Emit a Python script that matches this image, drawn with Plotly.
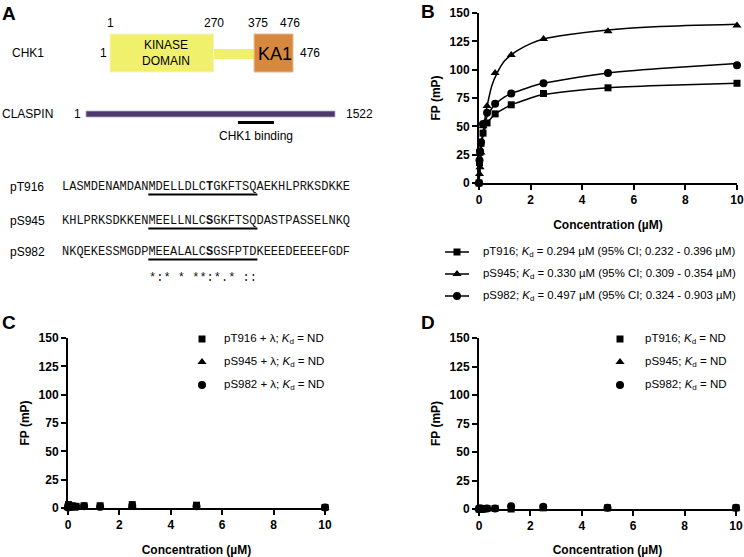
import plotly.graph_objects as go

W, H = 744, 557

# ---------------- data ----------------
conc = [0, 0.0195, 0.039, 0.078, 0.156, 0.3125, 0.625, 1.25, 2.5, 5, 10]

# Panel B (FP, mP)
b_pT916 = [0, 18, 27, 35, 44, 53, 61, 69, 79, 84, 88]
b_pS945 = [0, 8, 14, 27, 50, 68, 97, 113, 127, 134, 139]
b_pS982 = [0, 20, 28, 36, 52, 62, 70, 79, 88, 97, 104]

# fitted curves
fit_x = [0, 0.05, 0.1, 0.2, 0.3, 0.5, 0.7, 1, 1.25, 1.5, 2, 2.5, 3.5, 5, 7, 10]
fit_pT916 = [0, 22, 35, 46, 52, 58, 62, 66, 69, 71, 75, 78, 81, 84, 86, 88]
fit_pS982 = [0, 24, 37, 50, 58, 66, 71, 76, 79, 81, 85, 88, 92, 97, 101, 105.5]
fit_pS945 = [0, 15, 32, 52, 66, 86, 97, 108, 113, 117, 123, 127, 131, 135, 138, 140]

# Panel C (+ lambda phosphatase)
c_pT916 = [1, 3, 2, 1, 2, 1.5, 2, 2, 3, 2.5, 0.5]
c_pS945 = [0, 1, 0.5, 1, 1, 0.5, 1, 1, 1.5, 1, 0]
c_pS982 = [0.5, 2, 1, 1.5, 1, 1, 1.5, 1, 2, 1.5, 0.5]

# Panel D
d_pT916 = [0, 0, 0.5, 0, 0, 0.5, 0.5, 0, 1, 1, 1]
d_pS945 = [0, -0.5, 0, 0, 0, 0, 0, 0, 0.5, 0.5, 0.5]
d_pS982 = [0, 0.5, 0, 0.5, 0, 0.5, 0.5, 2.5, 2, 1, 1]

x_ticks = [0, 2, 4, 6, 8, 10]
y_ticks = [0, 25, 50, 75, 100, 125, 150]

b_names = [
    "pT916; <i>K</i><sub>d</sub> = 0.294 µM (95% CI; 0.232 - 0.396 µM)",
    "pS945; <i>K</i><sub>d</sub> = 0.330 µM (95% CI; 0.309 - 0.354 µM)",
    "pS982; <i>K</i><sub>d</sub> = 0.497 µM (95% CI; 0.324 - 0.903 µM)",
]
c_names = ["pT916 + λ; <i>K</i><sub>d</sub> = ND",
           "pS945 + λ; <i>K</i><sub>d</sub> = ND",
           "pS982 + λ; <i>K</i><sub>d</sub> = ND"]
d_names = ["pT916; <i>K</i><sub>d</sub> = ND",
           "pS945; <i>K</i><sub>d</sub> = ND",
           "pS982; <i>K</i><sub>d</sub> = ND"]

# Panel A schematic
chk1_len = 476
chk1_domains = [(1, 270, "KINASE<br>DOMAIN"), (375, 476, "KA1")]
claspin_len = 1522
claspin_binding = (929, 1149)
seq_names = ["pT916", "pS945", "pS982"]
seqs = ["LASMDENAMDANMDELLDLCTGKFTSQAEKHLPRKSDKKE",
        "KHLPRKSDKKENMEELLNLCSGKFTSQDASTPASSELNKQ",
        "NKQEKESSMGDPMEEALALCSGSFPTDKEEEDEEEEFGDF"]
phospho_idx = 20
motif = (12, 27)
conservation = "*:* * **:*.* ::"

# ---------------- styling ----------------
SANS = "Liberation Sans"
MONO = "Liberation Mono"
symbols = ["square", "triangle-up", "circle"]
msizes = [7, 8, 8]

fig = go.Figure()

def px(x):
    return x / W

def py(y):
    return 1 - y / H

# axes domains (pixels)
panels = {
    "B": dict(xa="x", ya="y", x0=479, x1=737, y0=183, y1=13),
    "C": dict(xa="x2", ya="y2", x0=68, x1=325, y0=508, y1=338),
    "D": dict(xa="x3", ya="y3", x0=479, x1=736, y0=509, y1=338),
}

def add_points(p, ys_list):
    for ys, sym, ms in zip(ys_list, symbols, msizes):
        fig.add_trace(go.Scatter(x=conc, y=ys, mode="markers", xaxis=p["xa"], yaxis=p["ya"],
                                 marker=dict(symbol=sym, size=ms, color="black"),
                                 cliponaxis=False, showlegend=False, hoverinfo="skip"))

# Panel B curves + points
for fy in [fit_pT916, fit_pS945, fit_pS982]:
    fig.add_trace(go.Scatter(x=fit_x, y=fy, mode="lines", xaxis="x", yaxis="y",
                             line=dict(color="black", width=1.5, shape="spline", smoothing=0.6),
                             showlegend=False, hoverinfo="skip"))
add_points(panels["B"], [b_pT916, b_pS945, b_pS982])
add_points(panels["C"], [c_pT916, c_pS945, c_pS982])
add_points(panels["D"], [d_pT916, d_pS945, d_pS982])

annotations = []
shapes = []

def canvas_text(x, y, text, size=12, xanchor="center", family=SANS, weight="normal", color="black"):
    annotations.append(dict(x=x, y=y, xref="x4", yref="y4", text=text, showarrow=False,
                            xanchor=xanchor, yanchor="middle",
                            font=dict(family=family, size=size, color=color, weight=weight)))

# legends
leg_rows_B = [252, 274, 296]
for name, sym, ms, yy in zip(b_names, symbols, msizes, leg_rows_B):
    fig.add_trace(go.Scatter(x=[445, 469], y=[yy, yy], mode="lines", xaxis="x4", yaxis="y4",
                             line=dict(color="black", width=1.5), showlegend=False, hoverinfo="skip"))
    fig.add_trace(go.Scatter(x=[457], y=[yy], mode="markers", xaxis="x4", yaxis="y4",
                             marker=dict(symbol=sym, size=ms, color="black"), showlegend=False,
                             hoverinfo="skip", cliponaxis=False))
    canvas_text(481, yy, name, size=11.4, xanchor="left")

leg_rows_CD = [339, 362, 385]
for names, mx, tx in [(c_names, 202, 222), (d_names, 620, 643)]:
    for name, sym, ms, yy in zip(names, symbols, msizes, leg_rows_CD):
        fig.add_trace(go.Scatter(x=[mx], y=[yy], mode="markers", xaxis="x4", yaxis="y4",
                                 marker=dict(symbol=sym, size=ms, color="black"), showlegend=False,
                                 hoverinfo="skip", cliponaxis=False))
        canvas_text(tx, yy, name, size=11.5, xanchor="left")

# panel letters
for letter, (lx, ly) in {"A": (9, 13), "B": (428, 11), "C": (9, 322), "D": (428, 322)}.items():
    canvas_text(lx, ly, letter, size=19, weight="bold")

# ---------------- Panel A schematic ----------------
def chk_x(r):
    return 110 + (r - 1) * (293 - 110) / (chk1_len - 1)

def cla_x(r):
    return 86 + (r - 1) * (335 - 86) / (claspin_len - 1)

YELLOW = "#f1f06c"
ORANGE = "#d6893e"
PURPLE = "#4b3a6b"

shapes.append(dict(type="rect", xref="x4", yref="y4", x0=chk_x(chk1_domains[0][1]), x1=chk_x(chk1_domains[1][0]),
                   y0=49, y1=59, fillcolor=YELLOW, line=dict(width=0), layer="above"))
dom_colors = [YELLOW, ORANGE]
for (s, e, lab), col in zip(chk1_domains, dom_colors):
    shapes.append(dict(type="rect", xref="x4", yref="y4", x0=chk_x(s), x1=chk_x(e), y0=34, y1=72,
                       fillcolor=col, line=dict(width=1, color="#f6f3c8" if col == YELLOW else "#e8b98a"),
                       layer="above"))
canvas_text((chk_x(1) + chk_x(270)) / 2 + 4, 53, "KINASE<br>DOMAIN", size=12)
canvas_text((chk_x(375) + chk_x(476)) / 2 + 1, 54, "KA1", size=18)
for r, xx in [(1, chk_x(1)), (270, chk_x(270)), (375, chk_x(375) + 4), (476, chk_x(476) - 3)]:
    canvas_text(xx, 23, str(r), size=12)
canvas_text(103, 53, "1", size=12)
canvas_text(298, 53, str(chk1_len), size=12, xanchor="left")
canvas_text(10, 53, "CHK1", size=12, xanchor="left")

shapes.append(dict(type="rect", xref="x4", yref="y4", x0=cla_x(1), x1=cla_x(claspin_len), y0=111, y1=117,
                   fillcolor=PURPLE, line=dict(width=0.8, color="#b7abc9"), layer="above"))
shapes.append(dict(type="rect", xref="x4", yref="y4", x0=cla_x(claspin_binding[0]), x1=cla_x(claspin_binding[1]),
                   y0=121, y1=124, fillcolor="black", line=dict(width=0), layer="above"))
canvas_text(0, 114, "CLASPIN", size=12, xanchor="left")
canvas_text(77, 114, "1", size=12)
canvas_text(344, 114, str(claspin_len), size=12, xanchor="left")
canvas_text((cla_x(claspin_binding[0]) + cla_x(claspin_binding[1])) / 2, 136, "CHK1 binding", size=12)

SEQ_X0 = 61
CW = (352 - 61) / 40.0
seq_rows = [187, 221, 252]
for name, seq, yy in zip(seq_names, seqs, seq_rows):
    canvas_text(8, yy, name, size=12, xanchor="left")
    txt = seq[:phospho_idx] + "<b>" + seq[phospho_idx] + "</b>" + seq[phospho_idx + 1:]
    annotations.append(dict(x=SEQ_X0, y=yy, xref="x4", yref="y4", text=txt, showarrow=False,
                            xanchor="left", yanchor="middle", borderpad=0,
                            font=dict(family=MONO, size=12, color="#111111")))
    shapes.append(dict(type="rect", xref="x4", yref="y4", x0=SEQ_X0 + motif[0] * CW, x1=SEQ_X0 + motif[1] * CW,
                       y0=yy + 6.5, y1=yy + 8.5, fillcolor="black", line=dict(width=0), layer="above"))
annotations.append(dict(x=SEQ_X0 + motif[0] * CW, y=278, xref="x4", yref="y4",
                        text=conservation.replace(" ", "\u00a0"), showarrow=False,
                        xanchor="left", yanchor="middle", borderpad=0,
                        font=dict(family=MONO, size=12, color="#111111")))

# ---------------- axes ----------------
axis_common = dict(showline=True, linecolor="black", linewidth=2, ticks="outside", ticklen=5,
                   tickwidth=2, tickcolor="black", showgrid=False, zeroline=False, automargin=False,
                   tickfont=dict(family=SANS, size=12, color="black", weight="bold"))
layout_axes = {}
for key, p in panels.items():
    xname = "xaxis" if p["xa"] == "x" else "xaxis" + p["xa"][1:]
    yname = "yaxis" if p["ya"] == "y" else "yaxis" + p["ya"][1:]
    layout_axes[xname] = dict(axis_common, domain=[px(p["x0"]), px(p["x1"])], range=[0, 10],
                              tickvals=x_ticks, anchor=p["ya"],
                              title=dict(text="Concentration (µM)", standoff=14,
                                         font=dict(family=SANS, size=12, color="black", weight="bold")))
    layout_axes[yname] = dict(axis_common, domain=[py(p["y0"]), py(p["y1"])], range=[0, 150],
                              tickvals=y_ticks, anchor=p["xa"],
                              title=dict(text="FP (mP)", standoff=6,
                                         font=dict(family=SANS, size=12, color="black", weight="bold")))
layout_axes["xaxis4"] = dict(domain=[0, 1], range=[0, W], visible=False, anchor="y4", automargin=False)
layout_axes["yaxis4"] = dict(domain=[0, 1], range=[H, 0], visible=False, anchor="x4", automargin=False)

fig.update_layout(width=W, height=H, margin=dict(l=0, r=0, t=0, b=0, autoexpand=False),
                  paper_bgcolor="white", plot_bgcolor="rgba(0,0,0,0)",
                  showlegend=False, annotations=annotations, shapes=shapes,
                  font=dict(family=SANS, size=12, color="black"), **layout_axes)

fig.write_html("out.html", config={"displayModeBar": False},
               post_script="document.body.style.margin='0px';document.body.style.overflow='hidden';")
